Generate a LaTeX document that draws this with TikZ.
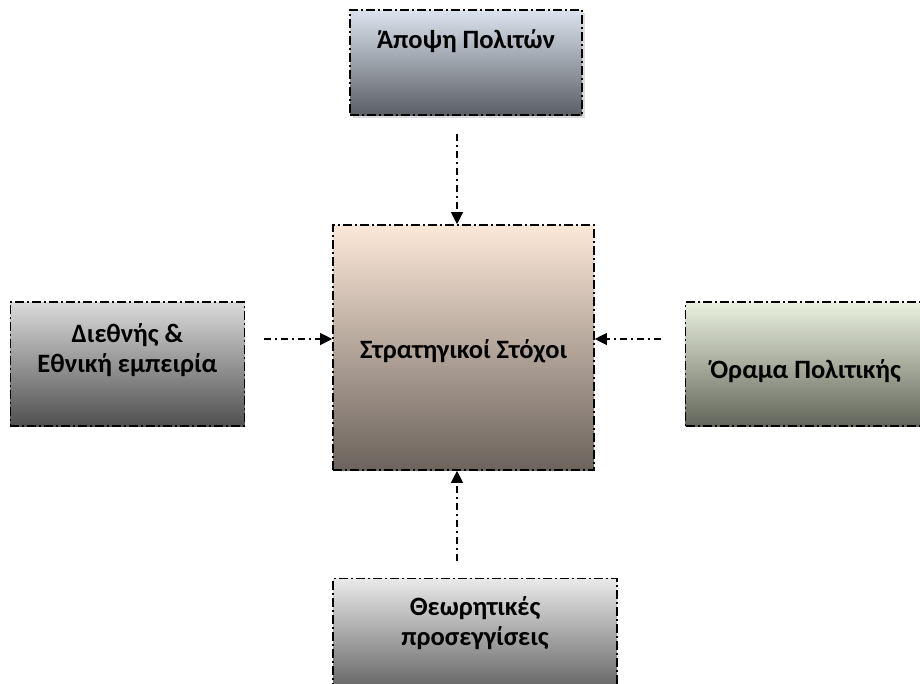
\documentclass[tikz,border=0pt]{standalone}
\usepackage{fontspec}
\setmainfont{Carlito}
\usetikzlibrary{shapes,arrows.meta,positioning,shadows}

\definecolor{goalstop}{HTML}{FCE8D9}
\definecolor{goalsmid}{HTML}{D2BFB1}
\definecolor{goalsbot}{HTML}{6C635C}
\definecolor{civictop}{HTML}{DCE3EE}
\definecolor{civicmid}{HTML}{A9AEB6}
\definecolor{civicbot}{HTML}{5A5E65}
\definecolor{intltop}{HTML}{DADADA}
\definecolor{intlmid}{HTML}{A4A4A4}
\definecolor{intlbot}{HTML}{505050}
\definecolor{visiontop}{HTML}{EBF1DF}
\definecolor{visionmid}{HTML}{B0B5A6}
\definecolor{visionbot}{HTML}{62665A}
\definecolor{theorytop}{HTML}{E9E9E9}
\definecolor{theorymid}{HTML}{BDBDBD}
\definecolor{theorybot}{HTML}{666666}

\begin{document}
\begin{tikzpicture}[x=1pt, y=1pt]
            \tikzstyle{box} = [rectangle, draw, line width=1.6pt, dash pattern=on 9pt off 3pt on 2pt off 3pt, inner sep=0pt, align=center, font=\fontsize{26.5}{30}\selectfont\bfseries]
            \tikzstyle{arrow} = [line width=1.2pt, dash pattern=on 7pt off 4pt on 2pt off 4pt, -{Triangle[length=12pt, width=12pt]}]

            \useasboundingbox (0,0) rectangle (920,-683);

            \node [box, minimum width=261pt, text height=133pt, text depth=112pt, top color=goalstop, middle color=goalsmid, bottom color=goalsbot] (goals) at (463.5,-347.5) {Στρατηγικοί Στόχοι};
            \node [box, line width=2pt, minimum width=232pt, text height=38pt, text depth=67pt, top color=civictop, middle color=civicmid, bottom color=civicbot, drop shadow={shadow xshift=3pt, shadow yshift=-3pt, fill=gray!55}, above=108pt of goals, xshift=2.5pt] (civic) {Άποψη Πολιτών};
            \node [box, minimum width=234pt, text height=70pt, text depth=54pt, top color=intltop, middle color=intlmid, bottom color=intlbot, left=87pt of goals, yshift=-16.5pt] (intl) {Διεθνής \&\\Εθνική εμπειρία};
            \node [box, minimum width=240pt, text height=76pt, text depth=48pt, top color=visiontop, middle color=visionmid, bottom color=visionbot, right=90pt of goals, yshift=-16.5pt] (vision) {Όραμα Πολιτικής};
            \node [box, minimum width=284pt, text height=67pt, text depth=43pt, top color=theorytop, middle color=theorymid, bottom color=theorybot, below=107pt of goals, xshift=11.5pt] (theory) {Θεωρητικές\\προσεγγίσεις};

            \coordinate (hub) at ([shift={(-6.5pt,8.5pt)}]goals.center);

            \draw [arrow, shorten <=18pt] (hub |- civic.south) -- (hub |- goals.north);
            \draw [arrow, shorten <=19pt] (hub -| intl.east) -- (hub -| goals.west);
            \draw [arrow, shorten <=24pt] (hub -| vision.west) -- (hub -| goals.east);
            \draw [arrow, shorten <=17pt] (hub |- theory.north) -- (hub |- goals.south);
        \end{tikzpicture}
\end{document}
